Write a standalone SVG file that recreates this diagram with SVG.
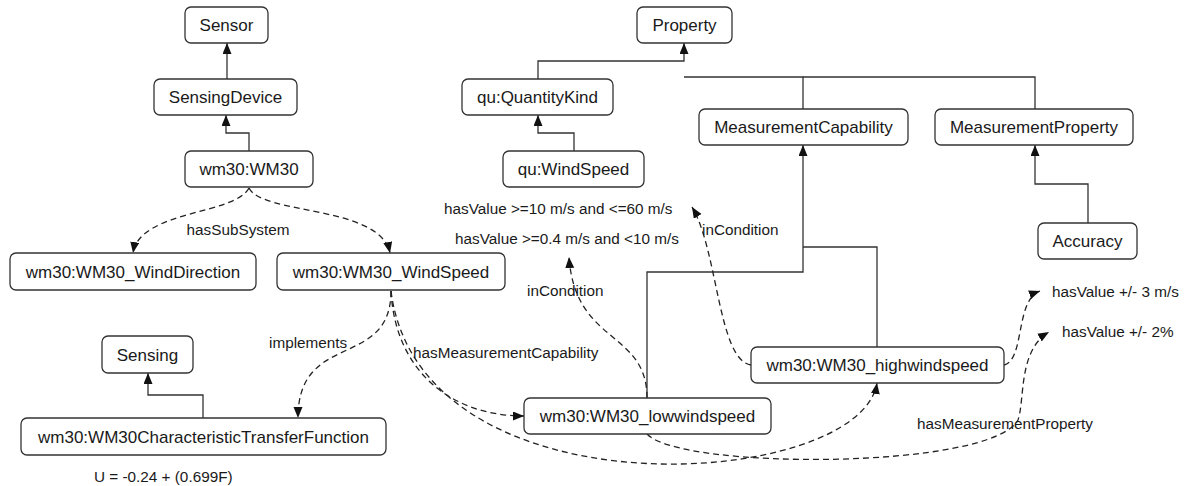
<svg xmlns="http://www.w3.org/2000/svg" width="1186" height="486" viewBox="0 0 1186 486">
<style>
.n rect{fill:#fff;stroke:#333;stroke-width:1.3}
.n text{font-family:"Liberation Sans",Arial,sans-serif;font-size:17px;fill:#1a1a1a;text-anchor:middle}
.l{font-family:"Liberation Sans",Arial,sans-serif;font-size:15.3px;fill:#1a1a1a}
.s{fill:none;stroke:#333;stroke-width:1.3;marker-end:url(#a)}
.j{fill:none;stroke:#333;stroke-width:1.3}
.d{fill:none;stroke:#222;stroke-width:1.3;stroke-dasharray:6 4;marker-end:url(#a)}
</style>
<defs>
<marker id="a" markerUnits="userSpaceOnUse" markerWidth="12" markerHeight="10" refX="11" refY="4.5" orient="auto">
<path d="M0,0 L11,4.5 L0,9 z" fill="#111"/>
</marker>
</defs>
<rect width="1186" height="486" fill="#fff"/>
<g id="connectors">
<path class="s" d="M227,79 V43"/>
<path class="s" d="M249,151 V133 H226 V115"/>
<path class="s" d="M538,79 V61 H684 V43"/>
<path class="j" d="M803,109 V77 H684"/>
<path class="j" d="M1035,109 V77 H803"/>
<path class="s" d="M574,151 V133 H538 V115"/>
<path class="s" d="M1088,223 V184 H1035 V145"/>
<path class="s" d="M647,398 V272 H803 V145"/>
<path class="j" d="M877,347 V247 H803"/>
<path class="s" d="M203,418 V395 H148 V373"/>
<path class="d" d="M249,188 C235,215 140,210 133,253"/>
<path class="d" d="M249,188 C262,215 380,205 390,253"/>
<path class="d" d="M391,291 C391,370 298,330 298,418"/>
<path class="d" d="M391,291 C395,370 450,416 524,416"/>
<path class="d" d="M391,291 C420,520 860,490 877,383"/>
<path class="d" d="M647,434 C680,470 990,470 1018,420 C1025,400 1018,350 1049,332"/>
<path class="d" d="M1004,365 C1025,360 1015,300 1040,291"/>
<path class="d" d="M751,365 C718,360 718,250 692,207"/>
<path class="d" d="M647,398 C647,330 575,345 569,257"/>
</g>
<g id="Sensor" class="n"><rect x="185" y="7" width="83" height="36" rx="6"/><text x="226.5" y="31">Sensor</text></g>
<g id="SensingDevice" class="n"><rect x="154" y="79" width="143" height="36" rx="6"/><text x="225.5" y="103">SensingDevice</text></g>
<g id="WM30" class="n"><rect x="185" y="151" width="128" height="36" rx="6"/><text x="249" y="175">wm30:WM30</text></g>
<g id="Property" class="n"><rect x="637" y="7" width="95" height="36" rx="6"/><text x="684.5" y="31">Property</text></g>
<g id="QuantityKind" class="n"><rect x="462" y="79" width="151" height="36" rx="6"/><text x="537.5" y="103">qu:QuantityKind</text></g>
<g id="quWindSpeed" class="n"><rect x="503" y="151" width="141" height="36" rx="6"/><text x="573.5" y="175">qu:WindSpeed</text></g>
<g id="MeasurementCapability" class="n"><rect x="699" y="109" width="209" height="36" rx="6"/><text x="803.5" y="133">MeasurementCapability</text></g>
<g id="MeasurementProperty" class="n"><rect x="935" y="109" width="198" height="36" rx="6"/><text x="1034" y="133">MeasurementProperty</text></g>
<g id="Accuracy" class="n"><rect x="1038" y="223" width="99" height="36" rx="6"/><text x="1087.5" y="247">Accuracy</text></g>
<g id="WindDirection" class="n"><rect x="10" y="253" width="246" height="37" rx="6"/><text x="133" y="277.5">wm30:WM30_WindDirection</text></g>
<g id="WindSpeed" class="n"><rect x="277" y="253" width="228" height="37" rx="6"/><text x="391" y="277.5">wm30:WM30_WindSpeed</text></g>
<g id="Sensing" class="n"><rect x="102" y="336" width="91" height="37" rx="6"/><text x="147.5" y="360.5">Sensing</text></g>
<g id="CTF" class="n"><rect x="21" y="418" width="365" height="37" rx="6"/><text x="203.5" y="442.5">wm30:WM30CharacteristicTransferFunction</text></g>
<g id="lowwindspeed" class="n"><rect x="524" y="398" width="247" height="36" rx="6"/><text x="647.5" y="422">wm30:WM30_lowwindspeed</text></g>
<g id="highwindspeed" class="n"><rect x="751" y="347" width="253" height="36" rx="6"/><text x="877.5" y="371">wm30:WM30_highwindspeed</text></g>
<g id="labels">
<text class="l" x="238" y="235" text-anchor="middle">hasSubSystem</text>
<text class="l" x="444" y="214">hasValue &gt;=10 m/s and &lt;=60 m/s</text>
<text class="l" x="455" y="244">hasValue &gt;=0.4 m/s and &lt;10 m/s</text>
<text class="l" x="702" y="235">inCondition</text>
<text class="l" x="527" y="296">inCondition</text>
<text class="l" x="269" y="348">implements</text>
<text class="l" x="413" y="358">hasMeasurementCapability</text>
<text class="l" x="1052" y="297">hasValue +/- 3 m/s</text>
<text class="l" x="1062" y="337">hasValue +/- 2%</text>
<text class="l" x="917" y="429">hasMeasurementProperty</text>
<text class="l" x="94" y="482">U = -0.24 + (0.699F)</text>
</g>
</svg>
